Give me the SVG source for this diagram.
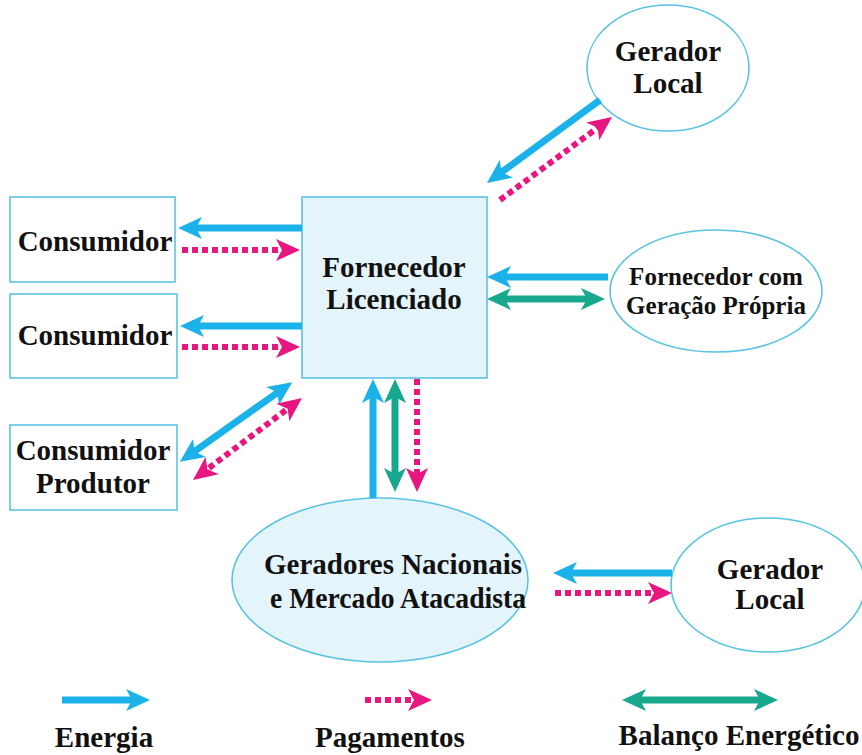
<svg xmlns="http://www.w3.org/2000/svg" width="862" height="755" viewBox="0 0 862 755">
<style>
.node{stroke:#5bc3e3;stroke-width:1.6;fill:#fff}
.fill{fill:#e4f4fb}
.t{font-family:"Liberation Serif","Times New Roman",serif;font-weight:bold;fill:#111;text-anchor:middle}
.big{font-size:29px}
.mid{font-size:25px}
.e{stroke:#1ab2e8;stroke-width:7;fill:none}
.p{stroke:#e8177f;stroke-width:6;stroke-dasharray:6 4;fill:none}
.b{stroke:#17a88e;stroke-width:7;fill:none}
.e1{marker-end:url(#mE)}
.e2{marker-end:url(#mE);marker-start:url(#mE)}
.p1{marker-end:url(#mP)}
.p2{marker-end:url(#mP);marker-start:url(#mP)}
.b2{marker-end:url(#mB);marker-start:url(#mB)}
</style>
<defs>
<marker id="mE" markerUnits="userSpaceOnUse" viewBox="0 0 24 22" markerWidth="24" markerHeight="22" refX="14" refY="11" orient="auto-start-reverse"><path d="M0,0 L24,11 L0,22 L6,11 z" fill="#1ab2e8"/></marker>
<marker id="mP" markerUnits="userSpaceOnUse" viewBox="0 0 24 22" markerWidth="24" markerHeight="22" refX="14" refY="11" orient="auto-start-reverse"><path d="M0,0 L24,11 L0,22 L6,11 z" fill="#e8177f"/></marker>
<marker id="mB" markerUnits="userSpaceOnUse" viewBox="0 0 24 22" markerWidth="24" markerHeight="22" refX="14" refY="11" orient="auto-start-reverse"><path d="M0,0 L24,11 L0,22 L6,11 z" fill="#17a88e"/></marker>
</defs>
<rect width="862" height="755" fill="#fff"/>

<g id="consumidor1"><rect class="node" x="10" y="197" width="165" height="85"/><text class="t big" x="95" y="251">Consumidor</text></g>
<g id="consumidor2"><rect class="node" x="10" y="294" width="167" height="84"/><text class="t big" x="95" y="345">Consumidor</text></g>
<g id="consumidor-produtor"><rect class="node" x="10" y="425" width="167" height="85"/><text class="t big" x="93" y="460">Consumidor</text><text class="t big" x="93" y="493">Produtor</text></g>
<g id="fornecedor-licenciado"><rect class="node fill" x="302" y="197" width="185" height="181"/><text class="t big" x="394" y="277">Fornecedor</text><text class="t big" x="394" y="309">Licenciado</text></g>
<g id="gerador-local-top"><ellipse class="node" cx="668" cy="68" rx="81" ry="63"/><text class="t big" x="668" y="61">Gerador</text><text class="t big" x="668" y="93">Local</text></g>
<g id="fornecedor-geracao-propria"><ellipse class="node" cx="716" cy="291" rx="106" ry="61"/><text class="t mid" x="716" y="285">Fornecedor com</text><text class="t mid" x="716" y="314">Geração Própria</text></g>
<g id="geradores-nacionais"><ellipse class="node fill" cx="380" cy="580" rx="148" ry="82"/><text class="t big" x="393" y="574">Geradores Nacionais</text><text class="t big" x="398" y="608" textLength="256" lengthAdjust="spacingAndGlyphs">e Mercado Atacadista</text></g>
<g id="gerador-local-bottom"><ellipse class="node" cx="768" cy="585" rx="97" ry="67"/><text class="t big" x="770" y="579">Gerador</text><text class="t big" x="770" y="609">Local</text></g>

<g id="connectors">
<line class="e e1" x1="600" y1="100" x2="495" y2="177"/>
<line class="p p1" x1="500" y1="200" x2="604" y2="123"/>
<line class="e e1" x1="302" y1="228" x2="188" y2="228"/>
<line class="p p1" x1="182" y1="250" x2="290" y2="250"/>
<line class="e e1" x1="302" y1="326" x2="190" y2="326"/>
<line class="p p1" x1="182" y1="347" x2="290" y2="347"/>
<line class="e e2" x1="188" y1="456" x2="284" y2="388"/>
<line class="p p2" x1="201" y1="474" x2="294" y2="404"/>
<line class="e e1" x1="373" y1="498" x2="373" y2="389"/>
<line class="b b2" x1="395" y1="389" x2="395" y2="482"/>
<line class="p p1" x1="417" y1="379" x2="417" y2="482"/>
<line class="e e1" x1="608" y1="277" x2="497" y2="277"/>
<line class="b b2" x1="497" y1="299" x2="595" y2="299"/>
<line class="e e1" x1="672" y1="573" x2="563" y2="573"/>
<line class="p p1" x1="555" y1="593" x2="662" y2="593"/>
</g>

<g id="legend">
<line class="e e1" x1="62" y1="700" x2="140" y2="700"/>
<line class="p p1" x1="365" y1="700" x2="422" y2="700"/>
<line class="b b2" x1="632" y1="700" x2="768" y2="700"/>
<text class="t big" x="104" y="747">Energia</text>
<text class="t big" x="390" y="747">Pagamentos</text>
<text class="t big" x="739" y="745">Balanço Energético</text>
</g>
</svg>
